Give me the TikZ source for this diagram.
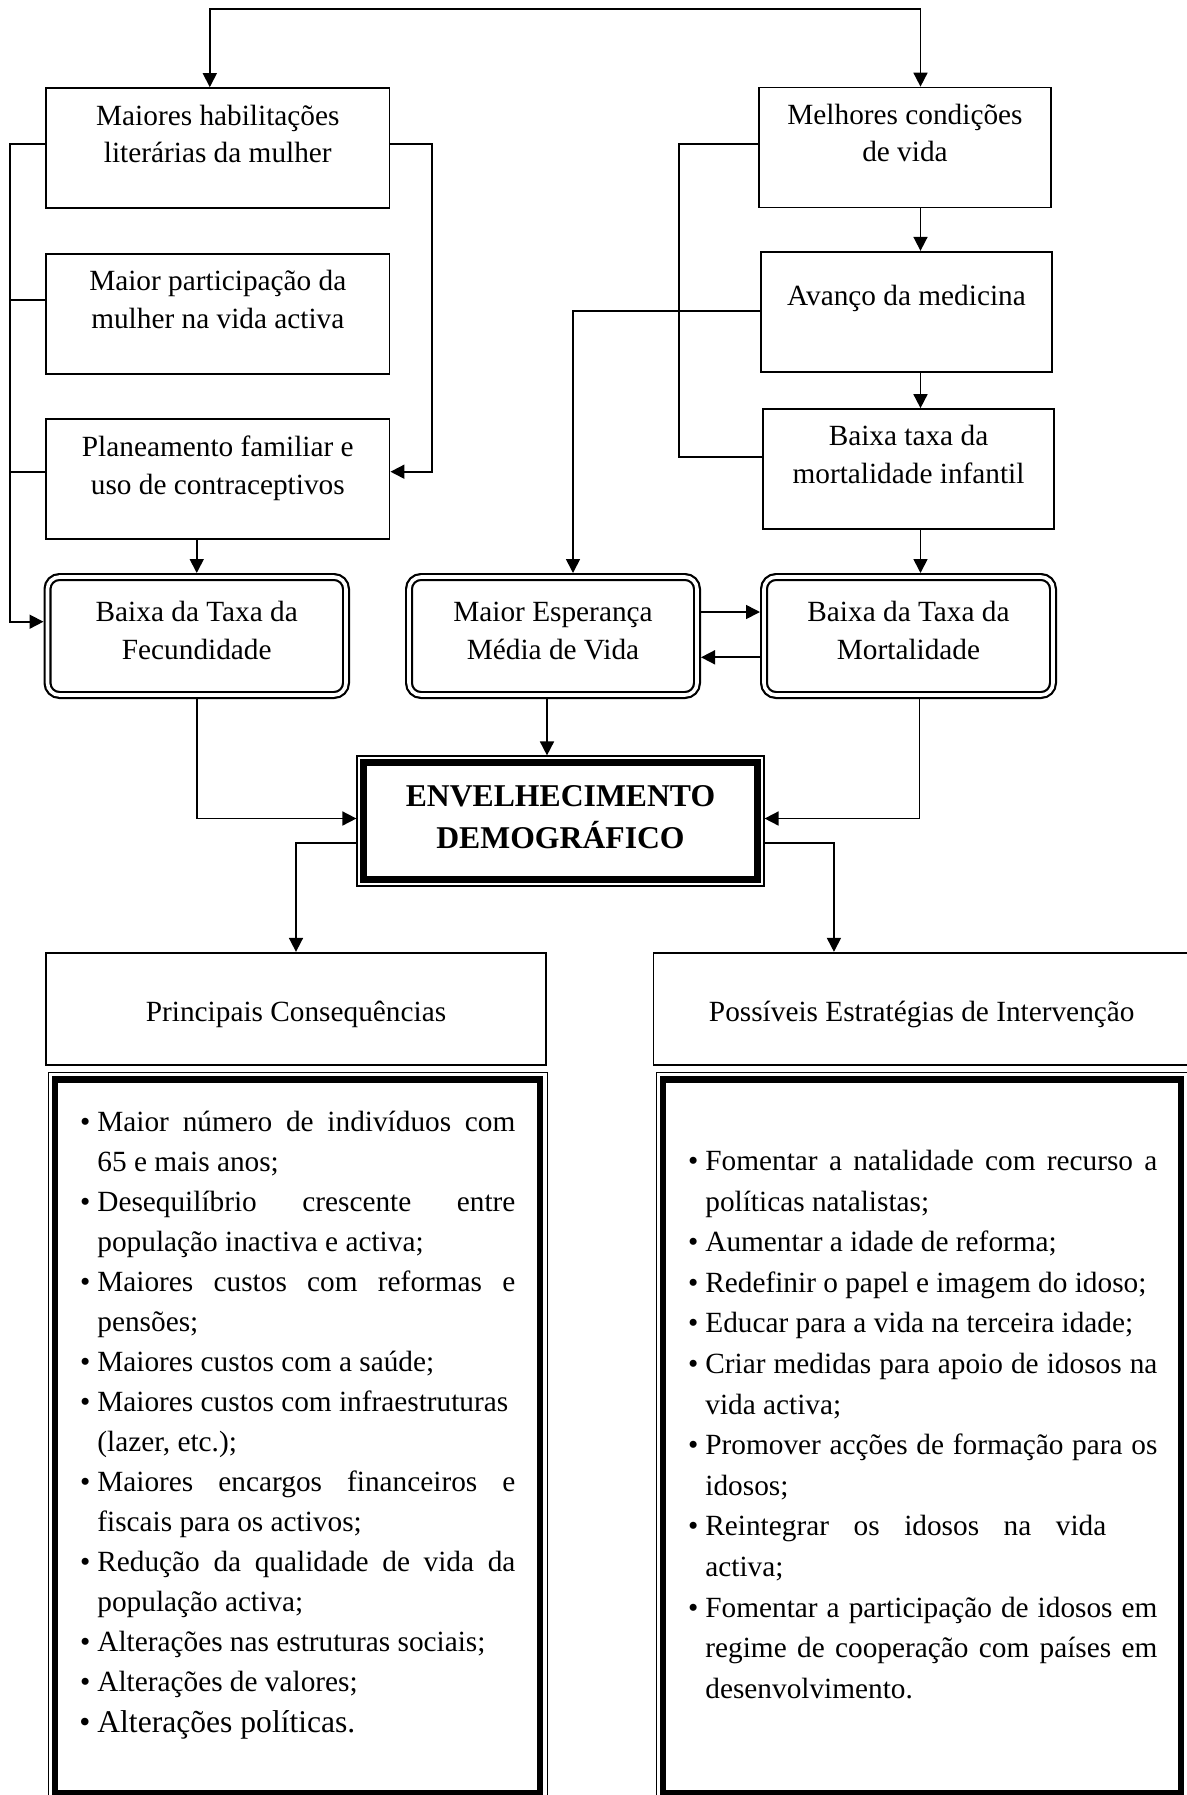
\documentclass[tikz,border=0pt]{standalone}
\usepackage{fontspec}
\setmainfont{Liberation Serif}
\usetikzlibrary{arrows.meta,calc}
\newcommand\bul{\leavevmode\llap{•\hspace{3.5pt}}}
\newcommand\jl[2]{\makebox[#1][s]{#2}}
\begin{document}
\begin{tikzpicture}[x=0.5pt,y=-0.5pt,
  box/.style={draw,line width=0.85pt,inner sep=0,outer sep=0.425pt},
  rbox/.style={draw,line width=1.1pt,double,double distance=1.8pt,rounded corners=6pt,inner sep=0,outer sep=2pt,minimum height=59pt},
  conn/.style={line width=0.85pt},
  arr/.style={conn,-{Triangle[length=7pt,width=7pt]}},
  txt/.style={font=\fontsize{14.65}{18.9}\selectfont,align=center,inner sep=0,anchor=north},
  thickframe/.style={line width=#1},
  listbox/.style={draw,line width=0.5pt,inner sep=0,outer sep=0,minimum height=363.65pt},
  listtext/.style={anchor=north west,inner sep=0,align=flush left},
  ]
\useasboundingbox (0,0) rectangle (1187,1795);
\clip (0,0) rectangle (1187,1795);

% ---------- boxes, left column
\node[box,minimum width=171.8pt,minimum height=60pt] (b1) at (217.8,148) {};
\node[box,minimum width=171.8pt,minimum height=60pt] (b2) at (217.8,314) {};
\node[box,minimum width=171.8pt,minimum height=60pt] (b3) at (217.8,479) {};
% ---------- boxes, right column
\node[box,minimum width=146pt,minimum height=60pt] (m1) at (905,147.5) {};
\node[box,minimum width=145.5pt,minimum height=60pt] (m2) at (906.5,311.7) {};
\node[box,minimum width=145.5pt,minimum height=60pt] (m3) at (908.5,469) {};
% ---------- rounded double boxes
\node[rbox,minimum width=149.25pt] (fec) at (196.75,636) {};
\node[rbox,minimum width=144pt] (esp) at (553,636) {};
\node[rbox,minimum width=144.5pt] (mort) at (908.5,636) {};
% ---------- central box
\node[draw,line width=0.6pt,minimum width=203.5pt,minimum height=65pt,inner sep=0,outer sep=0.3pt] (env) at (560.5,821) {};
\draw[thickframe=3.5pt] ([shift={(3.75pt,-3.75pt)}]env.north west) rectangle ([shift={(-3.75pt,3.75pt)}]env.south east);
% ---------- headers
\node[box,minimum width=250pt,minimum height=56.15pt] (cons) at (296,1008.85) {};
\node[box,minimum width=268.25pt,minimum height=56.15pt] (strat) at (921.75,1008.85) {};
% ---------- list boxes
\node[listbox,minimum width=249.5pt] (lcons) at (297.5,1436.35) {};
\draw[thickframe=3.25pt] ([shift={(3.5pt,-3.5pt)}]lcons.north west) rectangle ([shift={(-3.5pt,3.5pt)}]lcons.south east);
\node[listbox,minimum width=266pt] (lstrat) at (922,1436.35) {};
\draw[thickframe=3.25pt] ([shift={(3.5pt,-3.5pt)}]lstrat.north west) rectangle ([shift={(-3.5pt,3.5pt)}]lstrat.south east);

% ---------- texts
\node[txt] (b1t) at ([yshift=-5.5pt]b1.north) {\strut Maiores habilitações\\literárias da mulher};
\node[txt] (b2t) at ([yshift=-5.25pt]b2.north) {\strut Maior participação da\\mulher na vida activa};
\node[txt] (b3t) at ([yshift=-5.6pt]b3.north) {\strut Planeamento familiar e\\uso de contraceptivos};
\node[txt] (m1t) at ([yshift=-5.25pt]m1.north) {\strut Melhores condições\\de vida};
\node[txt] (m2t) at ([yshift=-13.65pt]m2.north) {\strut Avanço da medicina};
\node[txt] (m3t) at ([yshift=-5.25pt]m3.north) {\strut Baixa taxa da\\mortalidade infantil};
\node[txt] (fect) at ([yshift=-11pt]fec.north) {\strut Baixa da Taxa da\\Fecundidade};
\node[txt] (espt) at ([yshift=-11pt]esp.north) {\strut Maior Esperança\\Média de Vida};
\node[txt] (mortt) at ([yshift=-11pt]mort.north) {\strut Baixa da Taxa da\\Mortalidade};
\node[txt,font=\fontsize{15.85}{20.8}\selectfont\bfseries] (envt) at ([yshift=-10.8pt]env.north) {\strut ENVELHECIMENTO\\DEMOGRÁFICO};
\node[txt] (const) at ([yshift=-21.25pt]cons.north) {\strut Principais Consequências};
\node[txt] (stratt) at ([yshift=-21.25pt]strat.north) {\strut Possíveis Estratégias de Intervenção};

\node[listtext,text width=212pt,font=\fontsize{14.65}{20}\selectfont] (lconst) at ([xshift=24.5pt,yshift=-15.2pt]lcons.north west) {%
\strut\bul\jl{209pt}{Maior número de indivíduos com}\\
65 e mais anos;\\
\bul\jl{209pt}{Desequilíbrio crescente entre}\\
população inactiva e activa;\\
\bul\jl{209pt}{Maiores custos com reformas e}\\
pensões;\\
\bul Maiores custos com a saúde;\\
\bul Maiores custos com infraestruturas\\
(lazer, etc.);\\
\bul\jl{209pt}{Maiores encargos financeiros e}\\
fiscais para os activos;\\
\bul\jl{209pt}{Redução da qualidade de vida da}\\
população activa;\\
\bul Alterações nas estruturas sociais;\\
\bul Alterações de valores;\\[0.6pt]
{\fontsize{15.8}{20}\selectfont\bul Alterações políticas.}};

\node[listtext,text width=230pt,font=\fontsize{14.65}{20.3}\selectfont] (lstratt) at ([xshift=24.5pt,yshift=-34.5pt]lstrat.north west) {%
\strut\bul\jl{226pt}{Fomentar a natalidade com recurso a}\\
políticas natalistas;\\
\bul Aumentar a idade de reforma;\\
\bul Redefinir o papel e imagem do idoso;\\
\bul Educar para a vida na terceira idade;\\
\bul\jl{226pt}{Criar medidas para apoio de idosos na}\\
vida activa;\\
\bul\jl{226pt}{Promover acções de formação para os}\\
idosos;\\
\bul\jl{200.5pt}{Reintegrar os idosos na vida}\\
activa;\\
\bul\jl{226pt}{Fomentar a participação de idosos em}\\
\jl{226pt}{regime de cooperação com países em}\\
desenvolvimento.};

% ---------- connectors
\draw[conn,{Triangle[length=7pt,width=7pt]}-{Triangle[length=7pt,width=7pt]}] ([xshift=-4pt]b1.north) -- ++(0,-78) -| ([xshift=7.75pt]m1.north);
% left bracket
\draw[arr] ([yshift=2pt]b1.west) -- ++(-35.3,0) |- ([yshift=7.15pt]fec.west);
\draw[conn] ([yshift=7pt]b2.west) -- ++(-35.3,0);
\draw[conn] ([yshift=3.65pt]b3.west) -- ++(-35.3,0);
% right bracket
\draw[arr] ([yshift=2pt]b1.east) -- ++(41.7,0) |- ([yshift=3.65pt]b3.east);
\draw[arr] (b3.south -| fec.north) -- (fec.north);
% right column
\draw[arr] ([xshift=7.75pt]m1.south) -- ([xshift=7.75pt]m1.south |- m2.north);
\draw[arr] ([xshift=7pt]m2.south) -- ([xshift=7pt]m2.south |- m3.north);
\draw[arr] ([xshift=6pt]m3.south) -- ([xshift=6pt]m3.south |- mort.north);
\draw[conn] ([yshift=1.75pt]m1.west) -- ++(-79.4,0) |- ([yshift=5.85pt]m3.west);
\draw[arr] ([yshift=0.5pt]m2.west) -| ([xshift=10pt]esp.north);
% middle
\draw[arr] ([yshift=12pt]esp.east) -- ([yshift=12pt]mort.west);
\draw[arr] ([yshift=-10.65pt]mort.west) -- ([yshift=-10.65pt]esp.east);
\draw[arr] ([xshift=-3pt]esp.south) -- ([xshift=-3pt]esp.south |- env.north);
\draw[arr] (fec.south) |- ([yshift=1.25pt]env.west);
\draw[arr] ([xshift=5.5pt]mort.south) |- ([yshift=1.25pt]env.east);
% down to headers
\draw[arr] ([yshift=-11pt]env.west) -| (cons.north);
\draw[arr] ([yshift=-11pt]env.east) -| ([xshift=-43.9pt]strat.north);
\end{tikzpicture}
\end{document}
